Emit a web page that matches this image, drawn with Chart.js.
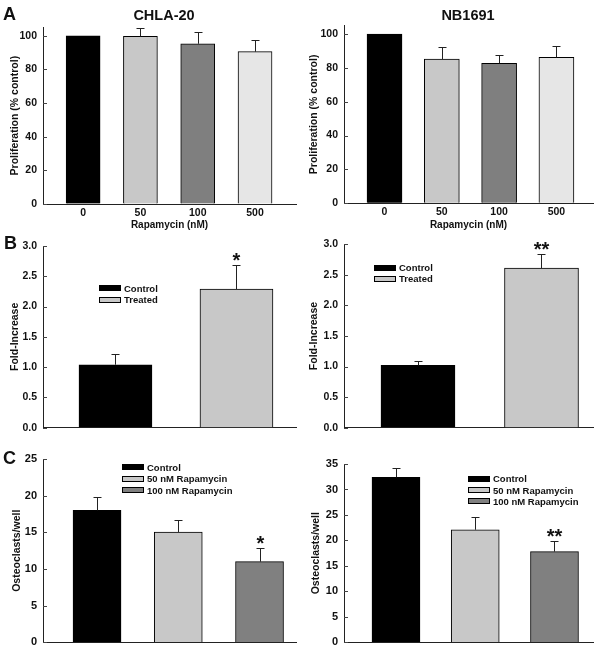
<!DOCTYPE html>
<html><head><meta charset="utf-8">
<script src="https://cdn.jsdelivr.net/npm/chart.js@4.4.1/dist/chart.umd.min.js"></script>
<style>
body{margin:0;background:#fff;width:604px;height:655px;position:relative;overflow:hidden;font-family:"Liberation Sans",Arial,sans-serif;}
canvas{position:absolute;}
.t{position:absolute;font-weight:bold;color:#111;white-space:nowrap;line-height:1;}
.leg{position:absolute;font:bold 9.5px "Liberation Sans",Arial,sans-serif;color:#111;}
.leg div{height:11.3px;line-height:11.3px;white-space:nowrap;}
.leg span{display:inline-block;width:22px;height:6px;border:1px solid #000;box-sizing:border-box;vertical-align:middle;margin-right:3px;position:relative;top:-1px;}
</style></head><body>
<script>
// ---------- data ----------
const doseLabels = ['0', '50', '100', '500'];
const doseColors = ['#000000', '#c8c8c8', '#7f7f7f', '#e6e6e6'];
const chlaProlif = [100, 99.6, 95.2, 90.5];
const chlaProlifErr = [0, 5.0, 7.3, 7.1];
const nbProlif = [100, 85.2, 82.7, 86.2];
const nbProlifErr = [0, 7.1, 4.7, 6.9];
const prolifTicks = [0, 20, 40, 60, 80, 100];
const prolifTickLabels = ['0', '20', '40', '60', '80', '100'];

const foldGroups = ['Control', 'Treated'];
const foldColors = ['#000000', '#c8c8c8'];
const chlaFold = [1.04, 2.29];
const chlaFoldErr = [0.17, 0.39];
const chlaFoldSig = ['', '*'];
const nbFold = [1.02, 2.61];
const nbFoldErr = [0.07, 0.23];
const nbFoldSig = ['', '**'];
const foldTicks = [0, 0.5, 1, 1.5, 2, 2.5, 3];
const foldTickLabels = ['0.0', '0.5', '1.0', '1.5', '2.0', '2.5', '3.0'];

const osteoGroups = ['Control', '50 nM Rapamycin', '100 nM Rapamycin'];
const osteoColors = ['#000000', '#c8c8c8', '#808080'];
const chlaOsteo = [18.0, 15.05, 11.0];
const chlaOsteoErr = [1.8, 1.7, 1.9];
const chlaOsteoSig = ['', '', '*'];
const nbOsteo = [32.4, 22.1, 17.8];
const nbOsteoErr = [1.8, 2.5, 2.1];
const nbOsteoSig = ['', '', '**'];
const osteoTicksCHLA = [0, 5, 10, 15, 20, 25];
const osteoTicksNB = [0, 5, 10, 15, 20, 25, 30, 35];

// ---------- drawing ----------
const FONT = '"Liberation Sans", Arial, sans-serif';

const errPlugin = {
  id: 'errbars',
  afterDatasetsDraw(chart, args, o) {
    const ctx = chart.ctx, xs = chart.scales.x, ys = chart.scales.y, ca = chart.chartArea;
    ctx.save();
    // inward y ticks
    ctx.strokeStyle = '#444'; ctx.lineWidth = 1;
    o.yTicks.forEach(v => {
      const py = Math.round(ys.getPixelForValue(v)) + 0.5;
      ctx.beginPath(); ctx.moveTo(ca.left, py); ctx.lineTo(ca.left + 4, py); ctx.stroke();
    });
    // error bars
    ctx.strokeStyle = '#222';
    o.values.forEach((v, i) => {
      const e = o.errs[i];
      const px = Math.round(xs.getPixelForValue(i)) + 0.5;
      const y0 = ys.getPixelForValue(v);
      const y1 = Math.round(ys.getPixelForValue(v + e)) + 0.5;
      if (e > 0) {
        ctx.beginPath();
        ctx.moveTo(px, y0); ctx.lineTo(px, y1);
        ctx.moveTo(px - 4, y1); ctx.lineTo(px + 4, y1);
        ctx.stroke();
      }
      const s = o.sig ? o.sig[i] : '';
      if (s) {
        ctx.fillStyle = '#111';
        ctx.font = 'bold 20px ' + FONT;
        ctx.textAlign = 'center';
        ctx.textBaseline = 'alphabetic';
        ctx.fillText(s, px, y1 + 1);
      }
    });
    ctx.restore();
  }
};

function makePanel(c) {
  const cv = document.createElement('canvas');
  cv.width = c.w; cv.height = c.h;
  cv.style.left = c.x + 'px'; cv.style.top = c.y + 'px';
  cv.style.width = c.w + 'px'; cv.style.height = c.h + 'px';
  document.body.appendChild(cv);
  new Chart(cv, {
    type: 'bar',
    data: {
      datasets: [{
        data: c.values.map((v, i) => ({ x: i, y: v })),
        backgroundColor: c.colors,
        borderColor: '#000',
        borderWidth: 1,
        barThickness: c.barW
      }]
    },
    options: {
      responsive: false, animation: false, devicePixelRatio: 1,
      layout: { padding: { top: c.padTop, right: c.padRight, left: 0, bottom: 0 } },
      plugins: {
        legend: { display: false }, tooltip: { enabled: false },
        errbars: { values: c.values, errs: c.errs, sig: c.sig, yTicks: c.yTicks }
      },
      scales: {
        x: {
          type: 'linear', min: c.xMin, max: c.xMax, offset: false,
          grid: { display: true, drawOnChartArea: false, drawTicks: false, offset: false },
          border: { display: true, color: '#222', width: 1 },
          afterBuildTicks: s => { s.ticks = c.cats.map((_, i) => ({ value: i })); },
          ticks: {
            display: !!c.showX, padding: 3, autoSkip: false, maxRotation: 0,
            color: '#111', font: { family: FONT, size: 10.5, weight: 'bold' },
            callback: (v, i) => c.cats[i]
          },
          title: {
            display: !!c.xTitle, text: c.xTitle || '', color: '#111',
            font: { family: FONT, size: 10, weight: 'bold' }, padding: { top: 0, bottom: 1 }
          },
          afterFit: s => { s.height = c.xH; }
        },
        y: {
          min: 0, max: c.yMax,
          grid: { display: true, drawOnChartArea: false, drawTicks: false },
          border: { display: true, color: '#222', width: 1 },
          afterBuildTicks: s => { s.ticks = c.yTicks.map(v => ({ value: v })); },
          ticks: {
            padding: 6, color: '#111', font: { family: FONT, size: c.yTickSize || 10.5, weight: 'bold' },
            callback: (v, i) => c.yTickLabels[i]
          },
          title: {
            display: true, text: c.yTitle, color: '#111',
            font: { family: FONT, size: 10.5, weight: 'bold' }, padding: { top: c.yTitlePad, bottom: 0 }
          },
          afterFit: s => { s.width = c.yW; }
        }
      }
    },
    plugins: [errPlugin]
  });
}

function addText(txt, left, top, size, center) {
  const d = document.createElement('div');
  d.className = 't'; d.textContent = txt;
  d.style.left = left + 'px'; d.style.top = top + 'px'; d.style.fontSize = size + 'px';
  if (center) d.style.transform = 'translateX(-50%)';
  document.body.appendChild(d);
}

function addLegend(labels, colors, left, top) {
  const box = document.createElement('div');
  box.className = 'leg';
  box.style.left = left + 'px'; box.style.top = top + 'px';
  labels.forEach((l, i) => {
    const row = document.createElement('div');
    const sw = document.createElement('span');
    sw.style.background = colors[i];
    row.appendChild(sw);
    row.appendChild(document.createTextNode(l));
    box.appendChild(row);
  });
  document.body.appendChild(box);
}

// Row A
makePanel({ x: 0, y: 0, w: 300, h: 232, padTop: 27.3, padRight: 4, yW: 43, xH: 28,
  cats: doseLabels, values: chlaProlif, errs: chlaProlifErr, colors: doseColors, barW: 34,
  xMin: -0.70, xMax: 3.715, showX: true, xTitle: 'Rapamycin (nM)',
  yMax: 105, yTicks: prolifTicks, yTickLabels: prolifTickLabels,
  yTitle: 'Proliferation (% control)', yTitlePad: 8.7 });
makePanel({ x: 300, y: 0, w: 304, h: 232, padTop: 25.5, padRight: 11, yW: 44, xH: 28.7,
  cats: doseLabels, values: nbProlif, errs: nbProlifErr, colors: doseColors, barW: 35,
  xMin: -0.707, xMax: 3.638, showX: true, xTitle: 'Rapamycin (nM)',
  yMax: 105, yTicks: prolifTicks, yTickLabels: prolifTickLabels,
  yTitle: 'Proliferation (% control)', yTitlePad: 7.7 });

// Row B
makePanel({ x: 0, y: 232, w: 300, h: 208, padTop: 14, padRight: 4, yW: 43, xH: 8,
  cats: foldGroups, values: chlaFold, errs: chlaFoldErr, sig: chlaFoldSig, colors: foldColors, barW: 73,
  xMin: -0.599, xMax: 1.492, showX: false,
  yMax: 3, yTicks: foldTicks, yTickLabels: foldTickLabels,
  yTitle: 'Fold-Increase', yTitlePad: 8.7 });
makePanel({ x: 300, y: 232, w: 304, h: 208, padTop: 12, padRight: 11, yW: 44, xH: 6.5,
  cats: foldGroups, values: nbFold, errs: nbFoldErr, sig: nbFoldSig, colors: foldColors, barW: 74,
  xMin: -0.599, xMax: 1.417, showX: false,
  yMax: 3, yTicks: foldTicks, yTickLabels: foldTickLabels,
  yTitle: 'Fold-Increase', yTitlePad: 7.4 });

// Row C
makePanel({ x: 0, y: 440, w: 300, h: 215, padTop: 19, padRight: 4, yW: 43, xH: 9,
  cats: osteoGroups, values: chlaOsteo, errs: chlaOsteoErr, sig: chlaOsteoSig, colors: osteoColors, barW: 48,
  xMin: -0.665, xMax: 2.449, showX: false, yTickSize: 11,
  yMax: 25, yTicks: osteoTicksCHLA, yTickLabels: osteoTicksCHLA.map(String),
  yTitle: 'Osteoclasts/well', yTitlePad: 10.4 });
makePanel({ x: 300, y: 440, w: 304, h: 215, padTop: 24, padRight: 11, yW: 44, xH: 9,
  cats: osteoGroups, values: nbOsteo, errs: nbOsteoErr, sig: nbOsteoSig, colors: osteoColors, barW: 48,
  xMin: -0.656, xMax: 2.486, showX: false, yTickSize: 11,
  yMax: 35, yTicks: osteoTicksNB, yTickLabels: osteoTicksNB.map(String),
  yTitle: 'Osteoclasts/well', yTitlePad: 9.7 });

// Panel letters and titles
addText('A', 3, 5.2, 18);
addText('B', 4, 233.7, 18);
addText('C', 3, 448.7, 18);
addText('CHLA-20', 164, 8.2, 14.5, true);
addText('NB1691', 468, 8.2, 14.5, true);

// Legends
addLegend(foldGroups, foldColors, 99, 282.8);
addLegend(foldGroups, foldColors, 374, 262.1);
addLegend(osteoGroups, osteoColors, 122, 462);
addLegend(osteoGroups, osteoColors, 468, 473.3);
</script>
</body></html>
